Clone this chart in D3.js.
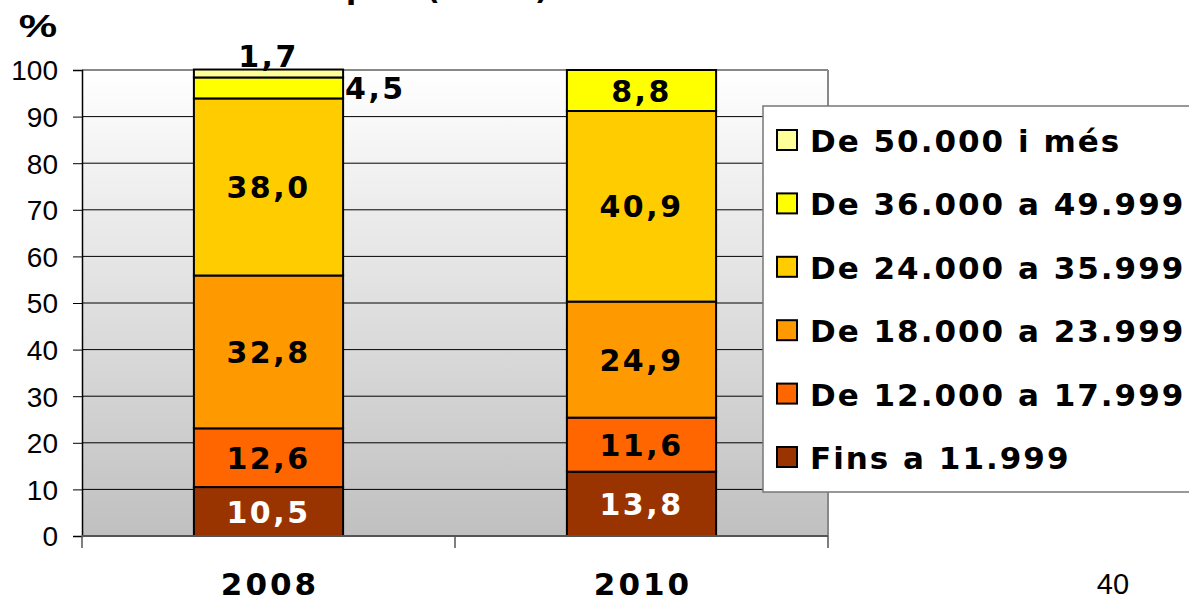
<!DOCTYPE html>
<html><head><meta charset="utf-8">
<script src="https://cdn.jsdelivr.net/npm/d3@7"></script>
<style>body{margin:0;background:#fff}svg{display:block}</style>
</head><body>
<svg id="c" width="1189" height="601"></svg>
<script>
const years = ["2008", "2010"];
const seriesNames = ["Fins a 11.999", "De 12.000 a 17.999", "De 18.000 a 23.999", "De 24.000 a 35.999", "De 36.000 a 49.999", "De 50.000 i més"];
const values2008 = [10.5, 12.6, 32.8, 38.0, 4.5, 1.7];
const values2010 = [13.8, 11.6, 24.9, 40.9, 8.8, 0];
const colors = ["#993300", "#FF6600", "#FF9900", "#FFCC00", "#FFFF00", "#FFFF99"];
const yTicks = [0, 10, 20, 30, 40, 50, 60, 70, 80, 90, 100];

const svg = d3.select("#c");
const L = 82, R = 828, T = 70, B = 536;
const y = d3.scaleLinear().domain([0, 100]).range([B, T]);
const x = d3.scaleBand().domain(years).range([L, R]).paddingInner(0.6).paddingOuter(0.3);

const defs = svg.append("defs");
const g = defs.append("linearGradient").attr("id", "bg").attr("x1", 0).attr("y1", 0).attr("x2", 0).attr("y2", 1);
g.append("stop").attr("offset", "0%").attr("stop-color", "#ffffff");
g.append("stop").attr("offset", "100%").attr("stop-color", "#c0c0c0");

// cut-off title (only the bottom edge is visible in the reference)
svg.append("text").attr("x", 230).attr("y", -1).attr("font-family", "DejaVu Sans").attr("font-weight", "bold")
  .attr("font-size", 30).attr("fill", "#000").text("comarques (euros)");

svg.append("rect").attr("x", L).attr("y", T).attr("width", R - L).attr("height", B - T).attr("fill", "url(#bg)");

// gridlines
svg.append("g").selectAll("line").data(yTicks.filter(d => d > 0 && d < 100)).join("line")
  .attr("x1", L).attr("x2", R).attr("y1", d => y(d)).attr("y2", d => y(d)).attr("stroke", "#000").attr("stroke-width", 1);
svg.append("line").attr("x1", L).attr("x2", R).attr("y1", T).attr("y2", T).attr("stroke", "#888").attr("stroke-width", 2);
svg.append("line").attr("x1", R).attr("x2", R).attr("y1", T).attr("y2", B).attr("stroke", "#888").attr("stroke-width", 2);

// y axis
const ya = svg.append("g").attr("transform", `translate(${L},0)`)
  .call(d3.axisLeft(y).tickValues(yTicks).tickSize(9).tickPadding(15));
ya.select(".domain").attr("stroke", "#000").attr("stroke-width", 1.5);
ya.selectAll(".tick line").attr("stroke", "#000");
ya.selectAll("text").attr("font-family", "Liberation Sans, Arial").attr("font-size", 28).attr("fill", "#000").attr("dy", "0.35em");

svg.append("text").attr("transform", "translate(38,37) scale(1.35,1)").attr("text-anchor", "middle").attr("font-family", "Liberation Sans, Arial")
  .attr("font-weight", "bold").attr("font-size", 32).text("%");

// stacked bars
const data = [values2008, values2010];
const labelFont = "DejaVu Sans, Verdana";
data.forEach((vals, i) => {
  let cum = 0;
  const bx = x(years[i]), bw = x.bandwidth();
  vals.forEach((v, k) => {
    if (v <= 0) return;
    const y0 = cum, y1 = cum + v;
    cum = y1;
    svg.append("rect").attr("x", bx).attr("width", bw).attr("y", y(y1)).attr("height", y(y0) - y(y1))
      .attr("fill", colors[k]).attr("stroke", "#000").attr("stroke-width", 2);
  });
});
// labels
data.forEach((vals, i) => {
  let cum = 0;
  const bx = x(years[i]), bw = x.bandwidth();
  vals.forEach((v, k) => {
    if (v <= 0) return;
    const y0 = cum, y1 = cum + v;
    cum = y1;
    let tx = bx + bw / 2, ty = (y(y0) + y(y1)) / 2 + 11, anchor = "middle";
    if (v < 3) { ty = y(y1) - 3; }
    else if (v < 6) { tx = bx + bw + 2; anchor = "start"; ty = (y(y0) + y(y1)) / 2 + 11; }
    svg.append("text").attr("x", tx).attr("y", ty).attr("text-anchor", anchor)
      .attr("font-family", labelFont).attr("font-weight", "bold").attr("font-size", 30).attr("letter-spacing", 2.5)
      .attr("fill", k === 0 ? "#fff" : "#000").text(d3.format(".1f")(v).replace(".", ","));
  });
});

// x axis
svg.append("line").attr("x1", L).attr("x2", R).attr("y1", B).attr("y2", B).attr("stroke", "#555").attr("stroke-width", 2);
[L, (L + R) / 2, R].forEach(px => svg.append("line").attr("x1", px).attr("x2", px).attr("y1", B).attr("y2", B + 12).attr("stroke", "#555").attr("stroke-width", 1.5));
svg.append("g").selectAll("text").data(years).join("text")
  .attr("x", d => x(d) + x.bandwidth() / 2 + 1.5).attr("y", 595).attr("text-anchor", "middle")
  .attr("font-family", labelFont).attr("font-weight", "bold").attr("font-size", 31).attr("letter-spacing", 3).text(d => d);

// legend
svg.append("rect").attr("x", 763).attr("y", 106).attr("width", 440).attr("height", 386).attr("fill", "#fff").attr("stroke", "#777").attr("stroke-width", 1.5);
const legendOrder = d3.range(seriesNames.length).reverse();
const ly = d3.scalePoint().domain(legendOrder).range([140, 457]);
const lg = svg.append("g").selectAll("g").data(legendOrder).join("g").attr("transform", k => `translate(777,${ly(k)})`);
lg.append("rect").attr("x", 0).attr("y", -10).attr("width", 20).attr("height", 20).attr("fill", k => colors[k]).attr("stroke", "#000").attr("stroke-width", 2);
lg.append("text").attr("x", 33).attr("y", 12).attr("font-family", labelFont).attr("font-weight", "bold").attr("font-size", 31).attr("letter-spacing", 2).text(k => seriesNames[k]);

svg.append("text").attr("x", 1113).attr("y", 594).attr("text-anchor", "middle").attr("font-family", "Liberation Sans, Arial").attr("font-size", 29).text("40");
</script>
</body></html>
